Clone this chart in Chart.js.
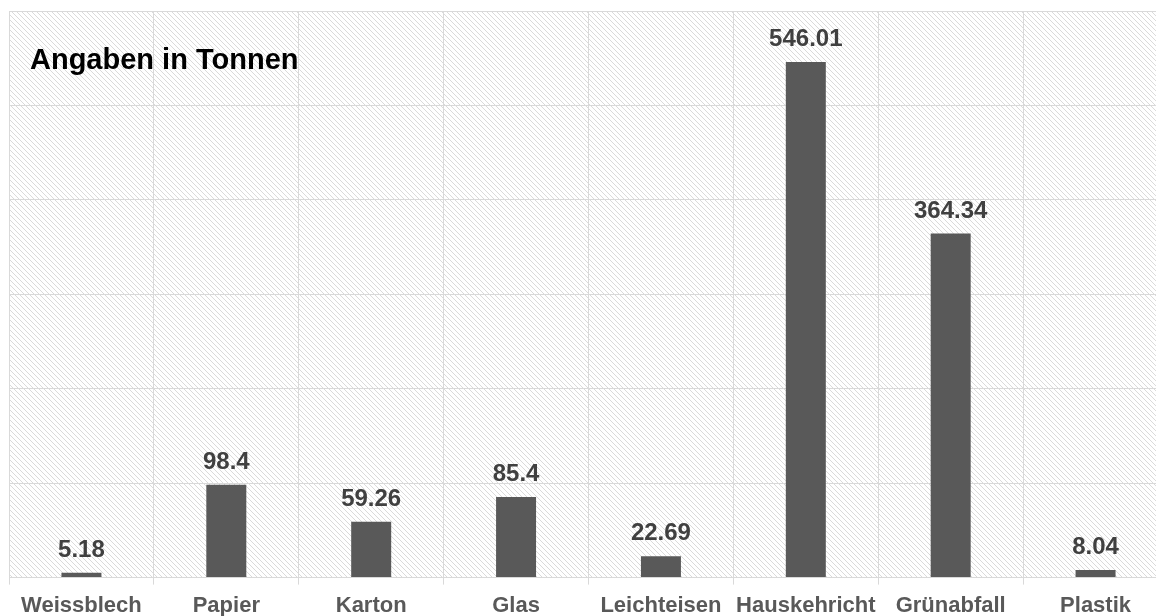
<!DOCTYPE html>
<html>
<head>
<meta charset="utf-8">
<script src="https://cdn.jsdelivr.net/npm/chart.js@4.4.1/dist/chart.umd.min.js"></script>
<style>
    html, body { margin: 0; padding: 0; background: #fff; overflow: hidden; }
    #wrap { width: 1180px; height: 616px; }
</style>
</head>
<body>
<div id="wrap"><canvas id="wasteChart"></canvas></div>
<script>
'use strict';

var categories = ['Weissblech', 'Papier', 'Karton', 'Glas', 'Leichteisen', 'Hauskehricht', 'Grünabfall', 'Plastik'];
var tonnes = [5.18, 98.4, 59.26, 85.4, 22.69, 546.01, 364.34, 8.04];
var yTicks = [0, 100, 200, 300, 400, 500, 600];
var chartTitle = 'Angaben in Tonnen';

var fontFamily = '"Liberation Sans", Arial, sans-serif';
var gridColor = '#d9d9d9';

// diagonal hatch for the plot background
function makeHatch() {
    var size = 5;
    var c = document.createElement('canvas');
    c.width = size;
    c.height = size;
    var g = c.getContext('2d');
    g.fillStyle = '#ffffff';
    g.fillRect(0, 0, size, size);
    g.strokeStyle = '#dadada';
    g.lineWidth = 1;
    g.beginPath();
    g.moveTo(-1, -1);
    g.lineTo(size + 1, size + 1);
    g.moveTo(-1, size - 1);
    g.lineTo(1, size + 1);
    g.moveTo(size - 1, -1);
    g.lineTo(size + 1, 1);
    g.stroke();
    return g.createPattern(c, 'repeat');
}

var hatchPlugin = {
    id: 'hatch',
    beforeDraw: function (chart) {
        var a = chart.chartArea;
        var ctx = chart.ctx;
        ctx.save();
        ctx.fillStyle = makeHatch();
        ctx.fillRect(a.left, a.top, a.right - a.left, a.bottom - a.top);
        ctx.restore();
    }
};

var labelPlugin = {
    id: 'barLabels',
    afterDatasetsDraw: function (chart) {
        var ctx = chart.ctx;
        var meta = chart.getDatasetMeta(0);
        ctx.save();
        ctx.font = 'bold 24px ' + fontFamily;
        ctx.fillStyle = '#404040';
        ctx.textAlign = 'center';
        ctx.textBaseline = 'alphabetic';
        meta.data.forEach(function (bar, i) {
            ctx.fillText(String(tonnes[i]), bar.x, bar.y - 16);
        });
        ctx.restore();
    },
    afterDraw: function (chart) {
        var ctx = chart.ctx;
        ctx.save();
        ctx.font = 'bold 29px ' + fontFamily;
        ctx.fillStyle = '#000000';
        ctx.textAlign = 'left';
        ctx.textBaseline = 'alphabetic';
        ctx.fillText(chartTitle, 30, 69);
        ctx.restore();
    }
};

var wasteChart = new Chart(document.getElementById('wasteChart'), {
    type: 'bar',
    data: {
        labels: categories,
        datasets: [{
            label: chartTitle,
            data: tonnes,
            backgroundColor: '#595959',
            borderWidth: 0,
            categoryPercentage: 1,
            barPercentage: 0.276
        }]
    },
    options: {
        responsive: true,
        maintainAspectRatio: false,
        animation: false,
        layout: { padding: { left: 9, top: 11, right: 12, bottom: -11 } },
        plugins: {
            legend: { display: false },
            tooltip: { enabled: false }
        },
        scales: {
            x: {
                grid: { color: gridColor, offset: true, tickLength: 7, lineWidth: 1 },
                border: { color: gridColor },
                ticks: {
                    color: '#595959',
                    font: { family: fontFamily, size: 22, weight: 'bold' },
                    padding: 8,
                    maxRotation: 0,
                    autoSkip: false
                }
            },
            y: {
                min: yTicks[0],
                max: yTicks[yTicks.length - 1],
                afterBuildTicks: function (axis) {
                    axis.ticks = yTicks.map(function (v) { return { value: v }; });
                },
                grid: { color: gridColor, drawTicks: false },
                border: { display: false },
                ticks: { display: false }
            }
        }
    },
    plugins: [hatchPlugin, labelPlugin]
});
</script>
</body>
</html>
